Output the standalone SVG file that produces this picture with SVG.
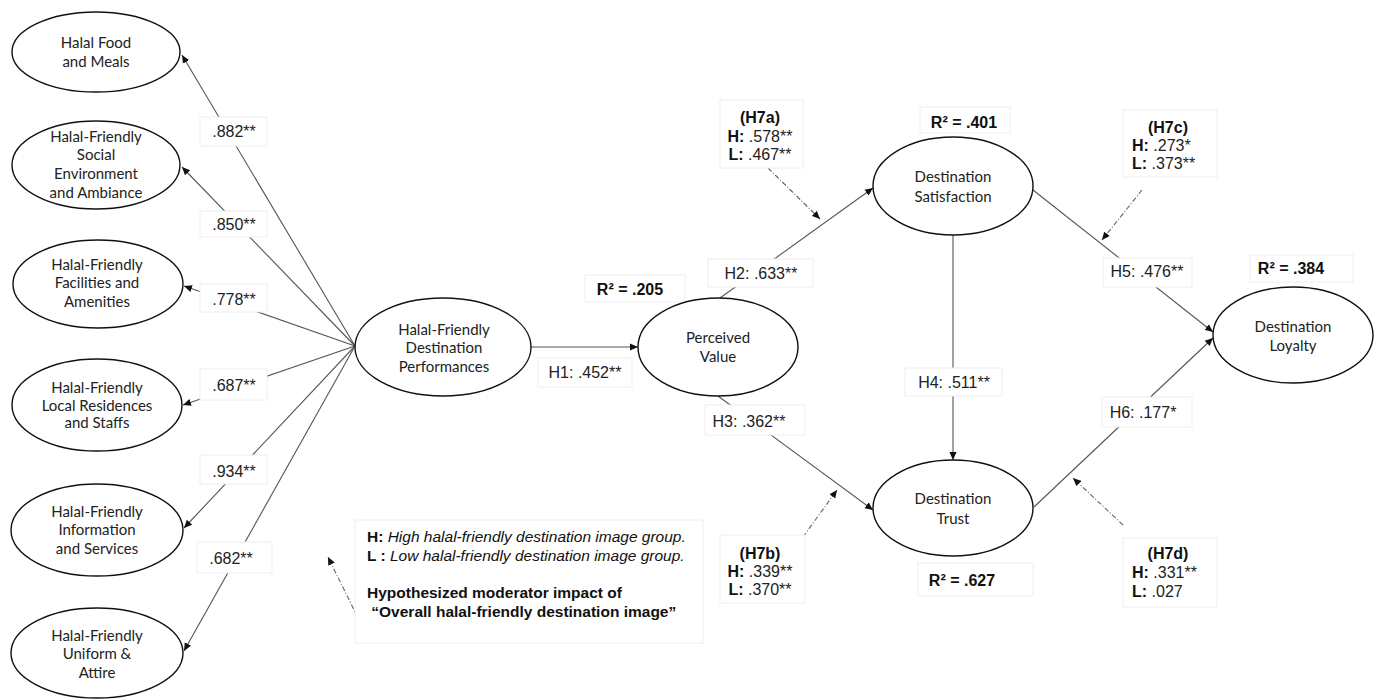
<svg xmlns="http://www.w3.org/2000/svg" width="1380" height="699" viewBox="0 0 1380 699">
<defs>
<marker id="arr" viewBox="0 0 10 10" refX="10" refY="5" markerWidth="8" markerHeight="8" markerUnits="userSpaceOnUse" orient="auto">
<path d="M0,0.5 L10,5 L0,9.5 z" fill="#111"/>
</marker>
<style>
.bg{fill:#fff}
.el{fill:#fff;stroke:#111;stroke-width:1.4}
.nt{font-family:Lato,"Liberation Sans",sans-serif;font-size:15px;fill:#222;text-anchor:middle}
.ln{stroke:#555;stroke-width:1.1;fill:none}
.dl{stroke:#666;stroke-width:1.1;fill:none;stroke-dasharray:5 2 1 2}
.lb{fill:#fff;stroke:#eeeeee;stroke-width:1}
.lt{font-family:"Liberation Sans",Arial,sans-serif;font-size:16px;fill:#222}
.c{text-anchor:middle}
.bt{font-family:"Liberation Sans",Arial,sans-serif;font-size:16px;fill:#111;font-weight:bold}
.gt{font-family:"Liberation Sans",Arial,sans-serif;font-size:15.5px;fill:#111}
</style>
</defs>
<rect class="bg" width="1380" height="699"/>

<g id="connectors">
<line class="ln" x1="355" y1="346" x2="182" y2="55" marker-end="url(#arr)"/>
<line class="ln" x1="355" y1="346" x2="182" y2="167" marker-end="url(#arr)"/>
<line class="ln" x1="355" y1="346" x2="184" y2="286" marker-end="url(#arr)"/>
<line class="ln" x1="355" y1="346" x2="183" y2="405" marker-end="url(#arr)"/>
<line class="ln" x1="355" y1="346" x2="184" y2="528" marker-end="url(#arr)"/>
<line class="ln" x1="355" y1="346" x2="184" y2="651" marker-end="url(#arr)"/>
<line class="ln" x1="531" y1="347" x2="638" y2="347" marker-end="url(#arr)"/>
<line class="ln" x1="720" y1="298" x2="873" y2="188" marker-end="url(#arr)"/>
<line class="ln" x1="718" y1="396" x2="873" y2="510" marker-end="url(#arr)"/>
<line class="ln" x1="953" y1="235" x2="953" y2="460" marker-end="url(#arr)"/>
<line class="ln" x1="1033" y1="190" x2="1213" y2="332" marker-end="url(#arr)"/>
<line class="ln" x1="1034" y1="507" x2="1213" y2="338" marker-end="url(#arr)"/>
<line class="dl" x1="768" y1="168" x2="820" y2="219" marker-end="url(#arr)"/>
<line class="dl" x1="803" y1="537" x2="837" y2="490" marker-end="url(#arr)"/>
<line class="dl" x1="1142" y1="190" x2="1102" y2="240" marker-end="url(#arr)"/>
<line class="dl" x1="1123" y1="525" x2="1073" y2="478" marker-end="url(#arr)"/>
<line class="dl" x1="358" y1="618" x2="328" y2="557" marker-end="url(#arr)"/>
</g>

<g id="labels">
<rect class="lb" x="200" y="117" width="67" height="29"/><text class="lt c" x="234" y="137">.882**</text>
<rect class="lb" x="200" y="211" width="67" height="26"/><text class="lt c" x="234" y="230">.850**</text>
<rect class="lb" x="200" y="284" width="67" height="28"/><text class="lt c" x="234" y="305">.778**</text>
<rect class="lb" x="200" y="369" width="67" height="31"/><text class="lt c" x="234" y="391">.687**</text>
<rect class="lb" x="200" y="455" width="67" height="29"/><text class="lt c" x="234" y="477">.934**</text>
<rect class="lb" x="197" y="542" width="75" height="31"/><text class="lt c" x="231" y="564">.682**</text>
<rect class="lb" x="538" y="358" width="94" height="29"/><text class="lt c" x="585" y="378">H1: .452**</text>
<rect class="lb" x="708" y="259" width="105" height="28"/><text class="lt c" x="761" y="279">H2: .633**</text>
<rect class="lb" x="705" y="405" width="100" height="30"/><text class="lt c" x="749" y="427">H3: .362**</text>
<rect class="lb" x="905" y="368" width="97" height="28"/><text class="lt c" x="954" y="388">H4: .511**</text>
<rect class="lb" x="1103" y="258" width="89" height="29"/><text class="lt c" x="1147" y="277">H5: .476**</text>
<rect class="lb" x="1102" y="397" width="90" height="30"/><text class="lt c" x="1143" y="418">H6: .177*</text>

<rect class="lb" x="585" y="275" width="100" height="27"/><text class="bt c" x="630" y="295">R² = .205</text>
<rect class="lb" x="920" y="107" width="90" height="26"/><text class="bt c" x="964" y="128">R² = .401</text>
<rect class="lb" x="918" y="563" width="115" height="33"/><text class="bt c" x="962" y="586">R² = .627</text>
<rect class="lb" x="1250" y="255" width="103" height="27"/><text class="bt c" x="1291" y="274">R² = .384</text>

<rect class="lb" x="720" y="100" width="83" height="68"/>
<text class="bt c" x="760" y="123">(H7a)</text>
<text class="lt c" x="760" y="142"><tspan font-weight="bold" fill="#111">H:</tspan> .578**</text>
<text class="lt c" x="760" y="160"><tspan font-weight="bold" fill="#111">L:</tspan> .467**</text>

<rect class="lb" x="720" y="535" width="85" height="68"/>
<text class="bt c" x="760" y="559">(H7b)</text>
<text class="lt c" x="760" y="577"><tspan font-weight="bold" fill="#111">H:</tspan> .339**</text>
<text class="lt c" x="760" y="595"><tspan font-weight="bold" fill="#111">L:</tspan> .370**</text>

<rect class="lb" x="1123" y="110" width="94" height="67"/>
<text class="bt c" x="1168" y="133">(H7c)</text>
<text class="lt" x="1132" y="151"><tspan font-weight="bold" fill="#111">H:</tspan> .273*</text>
<text class="lt" x="1132" y="169"><tspan font-weight="bold" fill="#111">L:</tspan> .373**</text>

<rect class="lb" x="1123" y="538" width="94" height="69"/>
<text class="bt c" x="1168" y="559">(H7d)</text>
<text class="lt" x="1132" y="578"><tspan font-weight="bold" fill="#111">H:</tspan> .331**</text>
<text class="lt" x="1132" y="597"><tspan font-weight="bold" fill="#111">L:</tspan> .027</text>
</g>

<g id="legend">
<rect class="lb" x="355" y="520" width="348" height="123"/>
<text class="gt" x="367" y="542"><tspan font-weight="bold">H:</tspan> <tspan font-style="italic">High halal-friendly destination image group.</tspan></text>
<text class="gt" x="367" y="561"><tspan font-weight="bold">L :</tspan> <tspan font-style="italic">Low halal-friendly destination image group.</tspan></text>
<text class="gt" x="367" y="598" font-weight="bold">Hypothesized moderator impact of</text>
<text class="gt" x="367" y="617" font-weight="bold" xml:space="preserve"> “Overall halal-friendly destination image”</text>
</g>

<g id="n-food"><ellipse class="el" cx="96" cy="52" rx="84" ry="40"/><text class="nt" x="96" y="48">Halal Food</text><text class="nt" x="96" y="67">and Meals</text></g>
<g id="n-social"><ellipse class="el" cx="96" cy="165" rx="84" ry="44"/><text class="nt" x="96" y="142">Halal-Friendly</text><text class="nt" x="96" y="160">Social</text><text class="nt" x="96" y="179">Environment</text><text class="nt" x="96" y="198">and Ambiance</text></g>
<g id="n-facilities"><ellipse class="el" cx="98" cy="284" rx="85" ry="44"/><text class="nt" x="97" y="270">Halal-Friendly</text><text class="nt" x="97" y="288">Facilities and</text><text class="nt" x="97" y="307">Amenities</text></g>
<g id="n-local"><ellipse class="el" cx="97" cy="405" rx="85" ry="46"/><text class="nt" x="97" y="393">Halal-Friendly</text><text class="nt" x="97" y="411" font-size="14px">Local Residences</text><text class="nt" x="97" y="428">and Staffs</text></g>
<g id="n-info"><ellipse class="el" cx="97" cy="530" rx="86" ry="46"/><text class="nt" x="97" y="517">Halal-Friendly</text><text class="nt" x="97" y="535">Information</text><text class="nt" x="97" y="554">and Services</text></g>
<g id="n-uniform"><ellipse class="el" cx="97" cy="653" rx="86" ry="45"/><text class="nt" x="97" y="641">Halal-Friendly</text><text class="nt" x="97" y="659">Uniform &amp;</text><text class="nt" x="97" y="678">Attire</text></g>
<g id="n-hub"><ellipse class="el" cx="443" cy="347" rx="88" ry="49"/><text class="nt" x="444" y="335">Halal-Friendly</text><text class="nt" x="444" y="353">Destination</text><text class="nt" x="444" y="372">Performances</text></g>
<g id="n-value"><ellipse class="el" cx="718" cy="347" rx="80" ry="49"/><text class="nt" x="718" y="343">Perceived</text><text class="nt" x="718" y="362">Value</text></g>
<g id="n-satisfaction"><ellipse class="el" cx="953" cy="186" rx="80" ry="49"/><text class="nt" x="953" y="182">Destination</text><text class="nt" x="953" y="202">Satisfaction</text></g>
<g id="n-trust"><ellipse class="el" cx="953" cy="508" rx="80" ry="48"/><text class="nt" x="953" y="504">Destination</text><text class="nt" x="953" y="524">Trust</text></g>
<g id="n-loyalty"><ellipse class="el" cx="1293" cy="335" rx="80" ry="48"/><text class="nt" x="1293" y="332">Destination</text><text class="nt" x="1293" y="351">Loyalty</text></g>
</svg>
